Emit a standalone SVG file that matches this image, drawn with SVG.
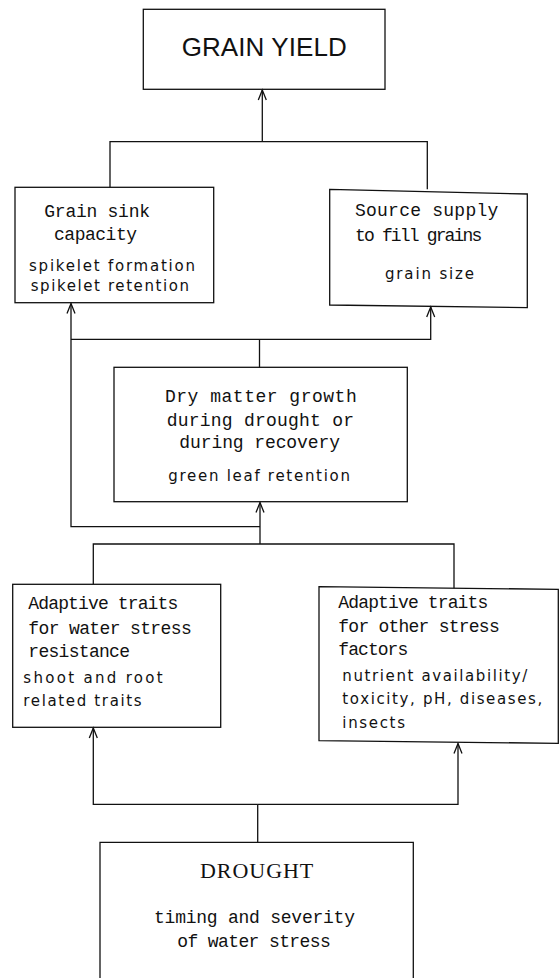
<svg xmlns="http://www.w3.org/2000/svg" width="559" height="978" viewBox="0 0 559 978">
<defs>
<style>
.box{fill:none;stroke:#111;stroke-width:1.3}
.ln{fill:none;stroke:#111;stroke-width:1.3}
.ser{font-family:"Liberation Mono","DejaVu Sans Mono",monospace;font-size:18px;fill:#111}
.san{font-family:"DejaVu Sans","Liberation Sans",sans-serif;font-size:15px;fill:#111}
.big{font-family:"Liberation Sans",Arial,sans-serif;font-size:26px;fill:#111}
.drt{font-family:"Liberation Serif","Times New Roman",serif;font-size:22px;fill:#111}
</style>
<marker id="ah" markerUnits="userSpaceOnUse" markerWidth="14" markerHeight="12" viewBox="-12 -6 14 12" refX="0" refY="0" orient="auto" overflow="visible">
<path d="M-10,-4 L0,0 L-10,4" fill="none" stroke="#111" stroke-width="1.3"/>
</marker>
</defs>
<rect width="559" height="978" fill="#fff"/>

<g id="connectors">
<path class="ln" d="M262.3,141.7 V90" marker-end="url(#ah)"/>
<path class="ln" d="M110,187.3 V141.7 H427.3 V189.3"/>
<path class="ln" d="M260,526.7 H71 V303.5" marker-end="url(#ah)"/>
<path class="ln" d="M71,339.3 H430.7 V307" marker-end="url(#ah)"/>
<path class="ln" d="M259.5,367.3 V339.3"/>
<path class="ln" d="M260,544 V502.5" marker-end="url(#ah)"/>
<path class="ln" d="M93.3,584.3 V544 H454 V588.2"/>
<path class="ln" d="M257.7,842.3 V804.3"/>
<path class="ln" d="M257.7,804.3 H93.3 V728" marker-end="url(#ah)"/>
<path class="ln" d="M257.7,804.3 H458 V743.5" marker-end="url(#ah)"/>
</g>

<g id="grain-yield">
<rect class="box" x="143.3" y="9.3" width="241.7" height="80"/>
<text class="big" x="181.7" y="56" textLength="165">GRAIN YIELD</text>
</g>

<g id="grain-sink">
<rect class="box" x="15" y="187.3" width="198.7" height="115.4"/>
<text class="ser" x="44.3" y="216.7" textLength="105.7">Grain sink</text>
<text class="ser" x="54" y="240" textLength="83">capacity</text>
<text class="san" x="29" y="270.7" textLength="166">spikelet formation</text>
<text class="san" x="30.7" y="291" textLength="158.3">spikelet retention</text>
</g>

<g id="source-supply">
<polygon class="box" points="329.7,189.3 527.3,194 527.3,307.7 329.7,305"/>
<text class="ser" x="355" y="216" textLength="143.3">Source supply</text>
<text class="ser" x="355" y="240.7" textLength="127.3">to fill grains</text>
<text class="san" x="385" y="279.3" textLength="89">grain size</text>
</g>

<g id="dry-matter">
<rect class="box" x="114" y="367.3" width="293.3" height="134.4"/>
<text class="ser" x="165" y="401.7" textLength="191.7">Dry matter growth</text>
<text class="ser" x="166.7" y="425.7" textLength="187.3">during drought or</text>
<text class="ser" x="179.3" y="448.3" textLength="160.7">during recovery</text>
<text class="san" x="168.3" y="480.7" textLength="181.7">green leaf retention</text>
</g>

<g id="adaptive-water">
<rect class="box" x="12.7" y="584.3" width="208" height="143"/>
<text class="ser" x="28.3" y="609.3" textLength="150">Adaptive traits</text>
<text class="ser" x="28.3" y="634" textLength="163.4">for water stress</text>
<text class="ser" x="28.3" y="657.3" textLength="101.7">resistance</text>
<text class="san" x="23.3" y="683.3" textLength="139.4">shoot and root</text>
<text class="san" x="23.3" y="706" textLength="118.4">related traits</text>
</g>

<g id="adaptive-other">
<polygon class="box" points="319,586.7 558.3,589.3 558.3,743.3 319,740.7"/>
<text class="ser" x="338.3" y="608.3" textLength="150">Adaptive traits</text>
<text class="ser" x="338.3" y="631.7" textLength="161.4">for other stress</text>
<text class="ser" x="338.3" y="655" textLength="70">factors</text>
<text class="san" x="342.3" y="681" textLength="185">nutrient availability/</text>
<text class="san" x="342.3" y="704.3" textLength="200">toxicity, pH, diseases,</text>
<text class="san" x="342.3" y="727.7" textLength="62.7">insects</text>
</g>

<g id="drought">
<path class="box" d="M100,980 V842.3 H413.3 V980"/>
<text class="drt" x="200" y="878.3" textLength="113.3">DROUGHT</text>
<text class="ser" x="154" y="922.7" textLength="201">timing and severity</text>
<text class="ser" x="177.3" y="946.7" textLength="153.4">of water stress</text>
</g>
</svg>
